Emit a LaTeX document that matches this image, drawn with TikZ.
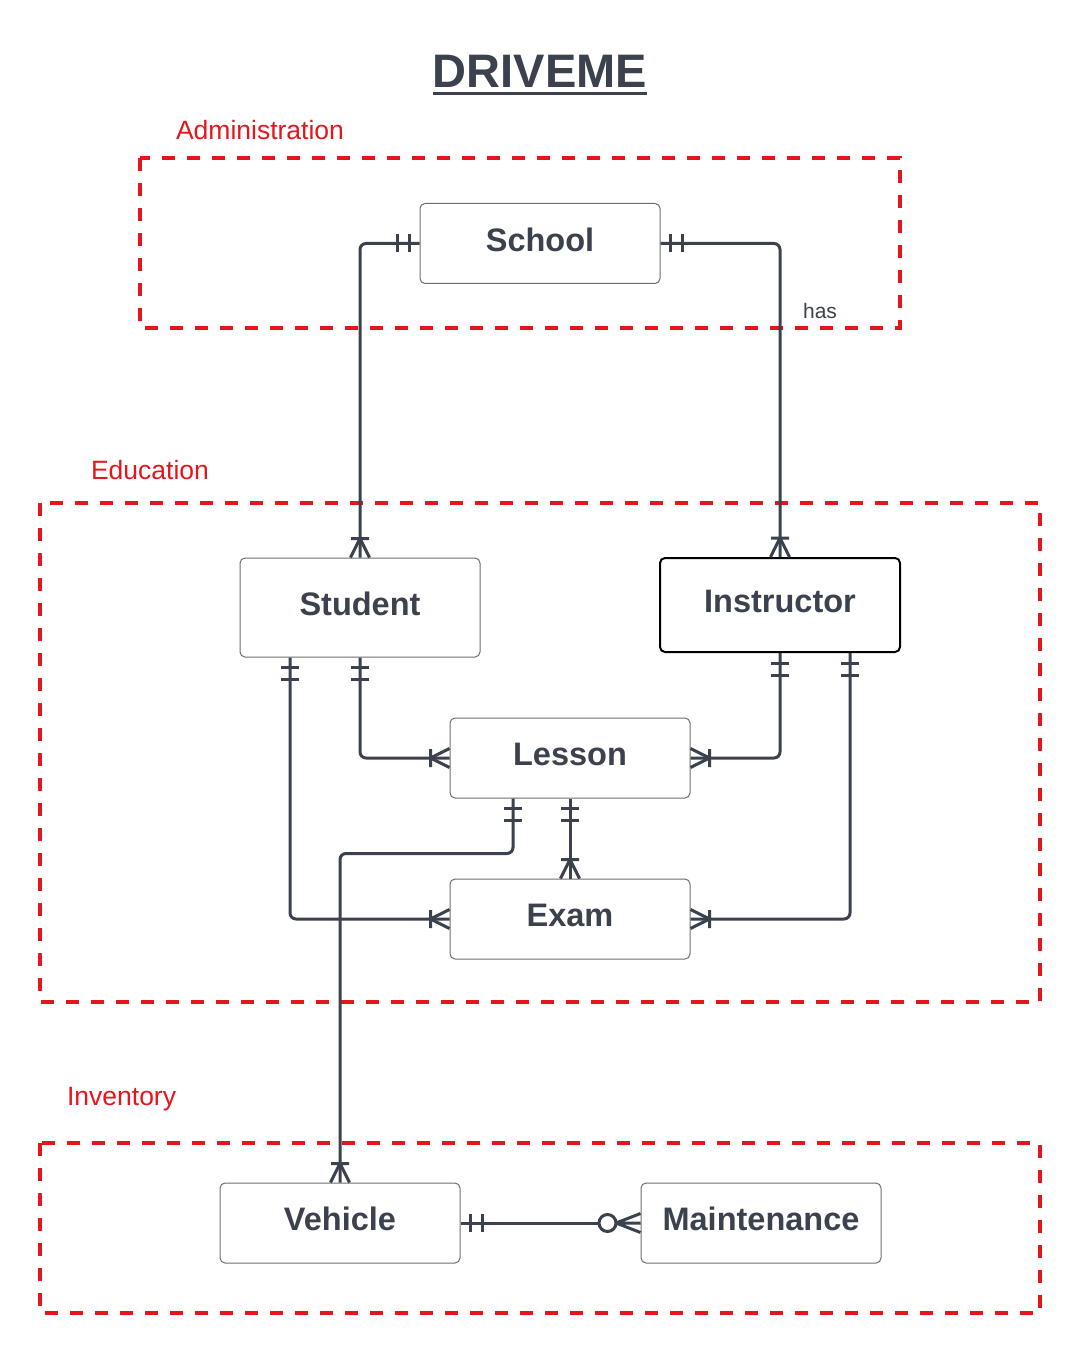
\documentclass[tikz,border=0pt]{standalone}
\usepackage{fontspec}
\setmainfont{Liberation Sans}
\usepackage{tikz}
\usetikzlibrary{arrows.meta,positioning}
\definecolor{pizarra}{HTML}{3B424D}
\definecolor{rojo}{HTML}{E5161B}
\definecolor{gris}{HTML}{6E6E6E}

\newcommand\subrayado[1]{\setbox0\hbox{#1}\rlap{\copy0}\rule[-3.5pt]{\wd0}{1.5pt}}

% ER cardinality tips
\pgfdeclarearrow{
  name = onlyone,
  setup code = {
    \pgfarrowssettipend{0pt}
    \pgfarrowssetlineend{0pt}
    \pgfarrowssetbackend{-12pt}
    \pgfarrowsupperhullpoint{0pt}{4.5pt}
    \pgfarrowsupperhullpoint{-12pt}{4.5pt}
  },
  drawing code = {
    \pgfsetlinewidth{1.5pt}
    \pgfsetdash{}{0pt}
    \pgfsetcornersarced{\pgfpointorigin}
    \pgfpathmoveto{\pgfqpoint{-5pt}{-4.5pt}}
    \pgfpathlineto{\pgfqpoint{-5pt}{4.5pt}}
    \pgfpathmoveto{\pgfqpoint{-11pt}{-4.5pt}}
    \pgfpathlineto{\pgfqpoint{-11pt}{4.5pt}}
    \pgfusepathqstroke
  }
}
\pgfdeclarearrow{
  name = onemany,
  setup code = {
    \pgfarrowssettipend{0pt}
    \pgfarrowssetlineend{0pt}
    \pgfarrowssetbackend{-10pt}
    \pgfarrowsupperhullpoint{0pt}{4.75pt}
    \pgfarrowsupperhullpoint{-10pt}{4.75pt}
  },
  drawing code = {
    \pgfsetlinewidth{1.5pt}
    \pgfsetdash{}{0pt}
    \pgfsetcornersarced{\pgfpointorigin}
    \pgfpathmoveto{\pgfqpoint{-9.5pt}{-4.5pt}}
    \pgfpathlineto{\pgfqpoint{-9.5pt}{4.5pt}}
    \pgfpathmoveto{\pgfqpoint{-9.5pt}{0pt}}
    \pgfpathlineto{\pgfqpoint{0pt}{4.75pt}}
    \pgfpathmoveto{\pgfqpoint{-9.5pt}{0pt}}
    \pgfpathlineto{\pgfqpoint{0pt}{-4.75pt}}
    \pgfusepathqstroke
  }
}
\pgfdeclarearrow{
  name = zeromany,
  setup code = {
    \pgfarrowssettipend{0pt}
    \pgfarrowssetlineend{-20.75pt}
    \pgfarrowssetbackend{-21pt}
    \pgfarrowsupperhullpoint{0pt}{4.75pt}
    \pgfarrowsupperhullpoint{-21pt}{4.75pt}
  },
  drawing code = {
    \pgfsetlinewidth{1.5pt}
    \pgfsetdash{}{0pt}
    \pgfsetcornersarced{\pgfpointorigin}
    \pgfpathcircle{\pgfqpoint{-16.5pt}{0pt}}{4.25pt}
    \pgfpathmoveto{\pgfqpoint{-12.25pt}{0pt}}
    \pgfpathlineto{\pgfqpoint{0pt}{0pt}}
    \pgfpathmoveto{\pgfqpoint{-12.25pt}{0pt}}
    \pgfpathlineto{\pgfqpoint{0pt}{4.75pt}}
    \pgfpathmoveto{\pgfqpoint{-12.25pt}{0pt}}
    \pgfpathlineto{\pgfqpoint{0pt}{-4.75pt}}
    \pgfusepathqstroke
  }
}

\begin{document}
\begin{tikzpicture}[x=0.5pt, y=-0.5pt,
  entity/.style={
    draw=gris, fill=white, line width=0.5pt, rounded corners=2.5pt,
    minimum width=120pt, minimum height=40pt, text depth=4pt,
    font=\bfseries\fontsize{16.25}{19}\selectfont, text=pizarra
  },
  rel/.style={draw=pizarra, line width=1.5pt, rounded corners=3pt},
  zona/.style={draw=rojo, line width=2pt, dash pattern=on 6.5pt off 6pt},
  zonalabel/.style={anchor=base west, text=rojo, font=\fontsize{13.25}{16}\selectfont}
]
  \useasboundingbox (0,0) rectangle (1080,1353);
  \node[anchor=base, text=pizarra, font=\bfseries\fontsize{23.5}{28}\selectfont] (titulo) at (540,88) {\subrayado{DRIVEME}};

  \draw[zona] (140,158) rectangle (900,328);
  \node[zonalabel] (admin) at (169,139.5) {Administration};
  \draw[zona] (40,503) rectangle (1040,1002);
  \node[zonalabel] (educ) at (84,479.5) {Education};
  \draw[zona] (40,1143) rectangle (1040,1313);
  \node[zonalabel] (inv) at (60,1105.5) {Inventory};

  \node[entity] (sch) at (540,243.5) {School};
  \node[entity, minimum height=49.5pt] (stu) at (360,607.5) {Student};
  \node[entity, draw=black, line width=1pt, minimum height=47pt] (ins) at (780,605) {Instructor};
  \node[entity] (les) at (570,758) {Lesson};
  \node[entity, below=40pt of les] (exa) {Exam};
  \node[entity] (veh) at (340,1223) {Vehicle};
  \node[entity, right=90pt of veh] (mai) {Maintenance};

  \draw[rel, onlyone-onemany] (sch.west) -| (stu.north);
  \draw[rel, onlyone-onemany] (sch.east) -| (ins.north);
  \node[anchor=base, text=pizarra, font=\fontsize{10.5}{12}\selectfont] (has) at (820,318.5) {has};
  \draw[rel, onlyone-onemany] (stu.south) |- (les.west);
  \draw[rel, onlyone-onemany] ([xshift=-35pt]stu.south) |- (exa.west);
  \draw[rel, onlyone-onemany] (ins.south) |- (les.east);
  \draw[rel, onlyone-onemany] ([xshift=35pt]ins.south) |- (exa.east);
  \draw[rel, onlyone-onemany] (les.south) -- (exa.north);
  \draw[rel, onlyone-onemany] ([xshift=-28.5pt]les.south) -- ++(0,55) -| (veh.north);
  \draw[rel, onlyone-zeromany] (veh.east) -- (mai.west);
\end{tikzpicture}
\end{document}
